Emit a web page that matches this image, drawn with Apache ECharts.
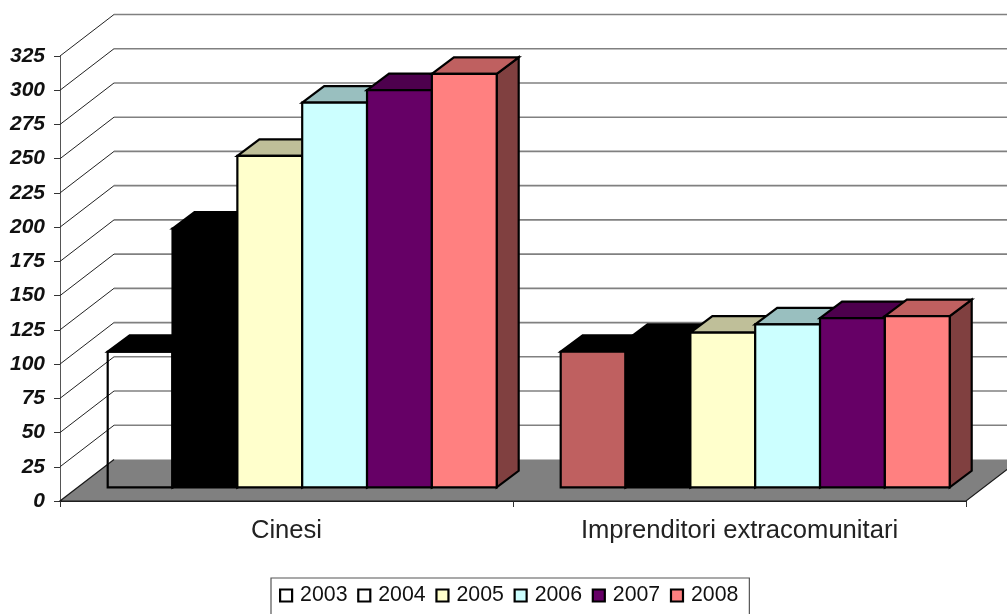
<!DOCTYPE html>
<html><head><meta charset="utf-8">
<style>html,body{margin:0;padding:0;background:#fff;overflow:hidden}#c{width:1007px;height:614px}</style>
<script src="https://cdn.jsdelivr.net/npm/echarts@6/dist/echarts.min.js"></script>
</head><body><div id="c"></div>
<script>
const categories = ['Cinesi', 'Imprenditori extracomunitari'];
const years = ['2003', '2004', '2005', '2006', '2007', '2008'];
const values2003 = [99, 99];
const values2004 = [189, 107];
const values2005 = [242, 113];
const values2006 = [281, 119];
const values2007 = [290, 123.5];
const values2008 = [302, 125];
const tickValues = [0,25,50,75,100,125,150,175,200,225,250,275,300,325];

const seriesValues = [values2003, values2004, values2005, values2006, values2007, values2008];
const legendFill = ['#ffffff', '#ffffff', '#FFFFCC', '#CCFFFF', '#660066', '#FF8080'];
// [front, top, side] for each point of each series
const faces = [
  [['none', '#000000', '#000000'], ['#BF6060', '#000000', '#000000']],
  [['#000000', '#000000', '#000000'], ['#000000', '#000000', '#000000']],
  [['#FFFFCC', '#BFBF99', '#808066'], ['#FFFFCC', '#BFBF99', '#808066']],
  [['#CCFFFF', '#99BFBF', '#668080'], ['#CCFFFF', '#99BFBF', '#668080']],
  [['#660066', '#4D004D', '#330033'], ['#660066', '#4D004D', '#330033']],
  [['#FF8080', '#BF6060', '#804040'], ['#FF8080', '#BF6060', '#804040']]
];

const WALL_DX = 54, WALL_DY = -41.5;      // depth of the whole plot box
const BAR_DX = 15.7, BAR_DY = -13.7;      // from the front plane to the bar front
const DEPTH_DX = 22, DEPTH_DY = -16.5;    // depth of a bar
const BAR_SHARE = 389 / 453 / 6;          // bar width, share of a category band

function floorAndWalls(params, api) {
  const cs = params.coordSys;
  const v = api.value(0);
  const y = api.coord([0, v])[1];
  const xl = cs.x, xr = cs.x + cs.width;
  const children = [];
  if (v === 0) {
    children.push({type: 'polygon', shape: {points: [[xl, y], [xr, y], [xr + WALL_DX, y + WALL_DY], [xl + WALL_DX, y + WALL_DY]]},
      style: {fill: '#808080', stroke: null}});
    children.push({type: 'polyline', shape: {points: [[xl + WALL_DX, y + WALL_DY], [xl, y], [xr, y], [xr + WALL_DX, y + WALL_DY]]},
      style: {fill: null, stroke: '#1a1a1a', lineWidth: 1.2}});
  } else {
    children.push({type: 'line', shape: {x1: xl, y1: y, x2: xl + WALL_DX, y2: y + WALL_DY},
      style: {stroke: '#222', lineWidth: 1}});
    children.push({type: 'line', shape: {x1: xl + WALL_DX, y1: y + WALL_DY, x2: xr + WALL_DX, y2: y + WALL_DY},
      style: {stroke: '#808080', lineWidth: 1.6}});
  }
  return {type: 'group', children};
}

function barRenderer(si) {
  return function (params, api) {
    const i = api.value(0), val = api.value(1);
    const top = api.coord([i, val]);
    const base = api.coord([i, 0]);
    const w = api.size([1, 0])[0] * BAR_SHARE;
    const x0 = top[0] + BAR_DX + (si - 3) * w;
    const x1 = x0 + w;
    const yt = top[1] + BAR_DY, yb = base[1] + BAR_DY;
    const c = faces[si][i];
    const ln = {stroke: '#000', lineWidth: 2.2, lineJoin: 'miter'};
    return {type: 'group', children: [
      {type: 'polygon', shape: {points: [[x1, yt], [x1 + DEPTH_DX, yt + DEPTH_DY], [x1 + DEPTH_DX, yb + DEPTH_DY], [x1, yb]]},
        style: Object.assign({fill: c[2]}, ln)},
      {type: 'polygon', shape: {points: [[x0, yt], [x0 + DEPTH_DX, yt + DEPTH_DY], [x1 + DEPTH_DX, yt + DEPTH_DY], [x1, yt]]},
        style: Object.assign({fill: c[1]}, ln)},
      {type: 'rect', shape: {x: x0, y: yt, width: w, height: yb - yt},
        style: Object.assign({fill: c[0]}, ln)}
    ]};
  };
}

const chart = echarts.init(document.getElementById('c'), null, {renderer: 'canvas'});
chart.setOption({
  animation: false,
  backgroundColor: '#ffffff',
  grid: {left: 60, right: 41, top: 56, bottom: 113, containLabel: false},
  legend: {
    left: 271, top: 578,
    data: years.map((y, i) => ({name: y, icon: 'rect',
      itemStyle: {color: legendFill[i], borderColor: '#000', borderWidth: 2.2}})),
    itemWidth: 12, itemHeight: 12, itemGap: 9.7,
    padding: [7, 11, 12, 8],
    borderColor: '#555', borderWidth: 1.2, backgroundColor: '#fff',
    selectedMode: false,
    textStyle: {fontFamily: 'Liberation Sans', fontSize: 21.3, color: '#111', padding: [0, 0, 0, 3]}
  },
  xAxis: {
    type: 'category', data: categories,
    axisLine: {show: true, lineStyle: {color: '#222', width: 1.2}},
    axisTick: {show: true, length: 6, alignWithLabel: false, lineStyle: {color: '#333', width: 1}},
    axisLabel: {fontFamily: 'Liberation Sans', fontSize: 25.6, color: '#222', margin: 17},
    splitLine: {show: false}
  },
  yAxis: {
    type: 'value', min: 0, max: 325, interval: 25,
    axisLine: {show: true, lineStyle: {color: '#555', width: 1}},
    axisTick: {show: true, length: 6, lineStyle: {color: '#333', width: 1}},
    axisLabel: {fontFamily: 'Liberation Sans', fontSize: 21, fontWeight: 'bold', fontStyle: 'italic', color: '#111', margin: 15},
    splitLine: {show: false}
  },
  series: [
    {type: 'custom', name: 'walls', coordinateSystem: 'cartesian2d', silent: true, clip: false, z: 1,
      data: tickValues.map(v => [v]), encode: {y: 0}, renderItem: floorAndWalls}
  ].concat(years.map((y, si) => ({
    type: 'custom', name: y, coordinateSystem: 'cartesian2d', clip: false, z: 2 + si,
    data: seriesValues[si].map((v, i) => [i, v]), encode: {x: 0, y: 1},
    itemStyle: {color: legendFill[si]},
    renderItem: barRenderer(si)
  })))
});
</script></body></html>
